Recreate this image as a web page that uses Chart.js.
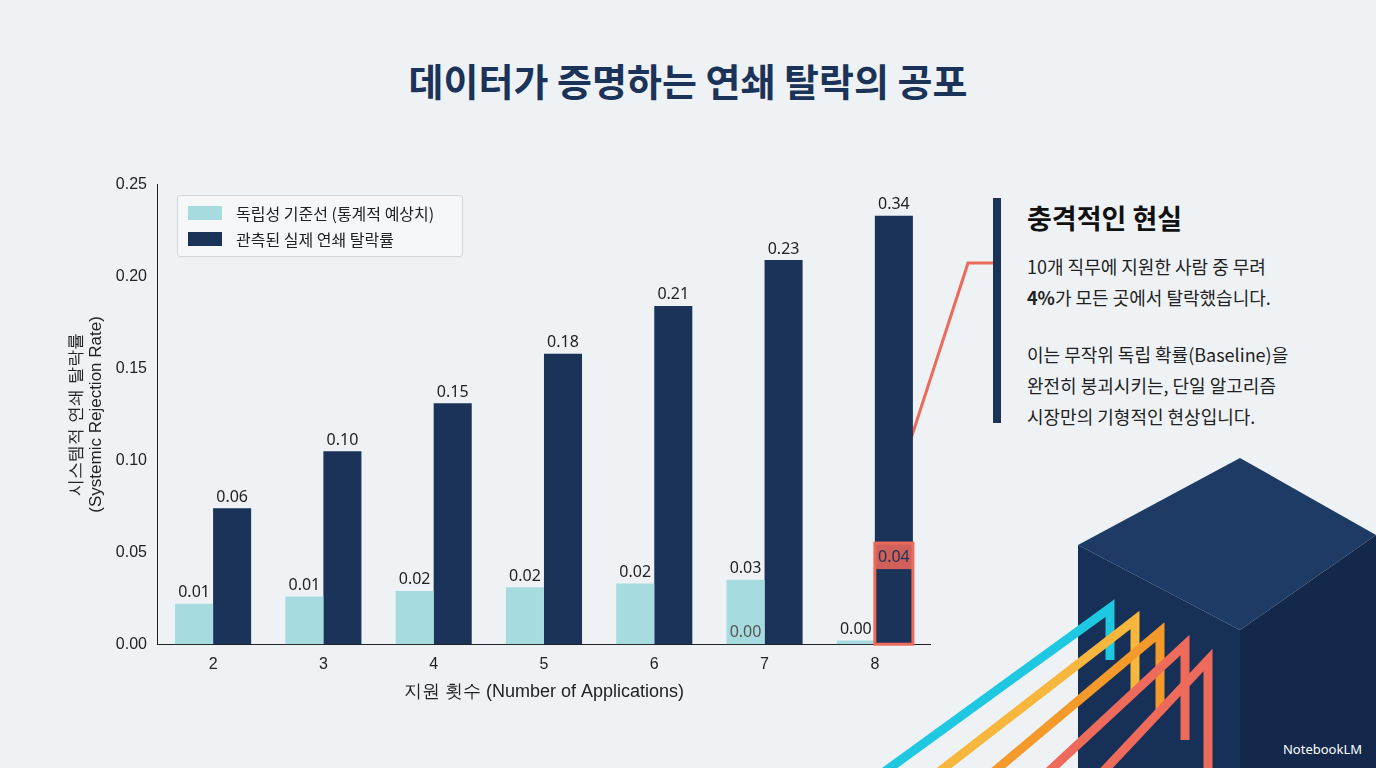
<!DOCTYPE html>
<html><head><meta charset="utf-8">
<script src="https://cdn.jsdelivr.net/npm/chart.js@4/dist/chart.umd.min.js"></script>
<style>
body{margin:0;width:1376px;height:768px;overflow:hidden;background:#eef2f5;font-family:"Noto Sans CJK KR","Noto Sans",sans-serif;position:relative}
h1{position:absolute;top:52px;left:0;width:1376px;text-align:center;margin:0;font-size:38px;color:#1b3358;font-weight:700}
#wrap{position:absolute;left:60px;top:172px;width:880px;height:535px}
#legend{position:absolute;left:177px;top:195px;width:284px;height:60px;border:1px solid #d3d8dd;background:rgba(245,247,249,.9);border-radius:3px;font-size:16px;color:#222}
#legend div{display:flex;align-items:center;height:26px;margin-left:10px}
#legend span{display:inline-block;width:34px;height:14px;margin-right:14px}
#panel{position:absolute;left:993px;top:198px;border-left:8px solid #1b3358;height:225px;padding-left:26px;color:#222}
#panel h2{margin:0 0 14px;font-size:27px;color:#111}
#panel p{margin:0 0 26px;font-size:18px;line-height:31px}
#logo{position:absolute;right:14px;bottom:10px;font-size:13px;color:#fff;font-family:"Noto Sans"}
svg{position:absolute;left:0;top:0}
</style></head><body>
<h1>데이터가 증명하는 연쇄 탈락의 공포</h1>
<svg width="1376" height="768">
 <polygon points="1078,545 1240,458 1376,535 1240,630" fill="#1e3b66"/>
 <polygon points="1078,545 1240,630 1240,768 1078,768" fill="#173057"/>
 <polygon points="1240,630 1376,535 1376,768 1240,768" fill="#13284a"/>
 <g fill="none" stroke-width="9">
  <polyline points="880,775 1110,608 1110,660" stroke="#1ec8e0"/>
  <polyline points="935,775 1135,620 1135,690" stroke="#f6b73c"/>
  <polyline points="990,775 1160,632 1160,712" stroke="#f39a2a"/>
  <polyline points="1045,775 1185,645 1185,740" stroke="#ee6a5a"/>
  <polyline points="1100,775 1208,660 1208,768" stroke="#ee6a5a"/>
 </g>
 <polyline points="882,528 968,263 998,263" fill="none" stroke="#ee6a5a" stroke-width="3"/>
</svg>
<div id="wrap"><canvas id="c"></canvas></div>
<div id="legend">
 <div style="margin-top:4px"><span style="background:#a6dbe0"></span>독립성 기준선 (통계적 예상치)</div>
 <div><span style="background:#1b3358"></span>관측된 실제 연쇄 탈락률</div>
</div>
<div id="panel">
 <h2>충격적인 현실</h2>
 <p>10개 직무에 지원한 사람 중 무려<br><b>4%</b>가 모든 곳에서 탈락했습니다.</p>
 <p>이는 무작위 독립 확률(Baseline)을<br>완전히 붕괴시키는, 단일 알고리즘<br>시장만의 기형적인 현상입니다.</p>
</div>
<div id="logo">NotebookLM</div>
<script>
const categories = ['2', '3', '4', '5', '6', '7', '8'];
const baseline = [0.022, 0.026, 0.029, 0.031, 0.033, 0.035, 0.002];
const observed = [0.074, 0.105, 0.131, 0.158, 0.184, 0.209, 0.233];
const baselineLabels = ['0.01', '0.01', '0.02', '0.02', '0.02', '0.03', '0.00'];
const observedLabels = ['0.06', '0.10', '0.15', '0.18', '0.21', '0.23', '0.34'];
const yTicks = [0, 0.05, 0.10, 0.15, 0.20, 0.25];

const labelPlugin = {
    id: 'labels',
    afterDatasetsDraw(chart) {
        const ctx = chart.ctx;
        ctx.save();
        ctx.font = '16px "Noto Sans", sans-serif';
        ctx.fillStyle = '#222';
        ctx.textAlign = 'center';
        ctx.textBaseline = 'bottom';
        [baselineLabels, observedLabels].forEach((labels, di) => {
            chart.getDatasetMeta(di).data.forEach((bar, i) => {
                ctx.fillText(labels[i], bar.x, bar.y - 3);
            });
        });
        const y = chart.scales.y;
        const b7 = chart.getDatasetMeta(0).data[5];
        ctx.fillStyle = '#555';
        ctx.fillText('0.00', b7.x, y.getPixelForValue(0) - 4);
        // highlight box on the last observed bar
        const b8 = chart.getDatasetMeta(1).data[6];
        const top = y.getPixelForValue(0.055), bot = y.getPixelForValue(0);
        const w = b8.width;
        ctx.fillStyle = 'rgba(238,106,90,0.85)';
        ctx.fillRect(b8.x - w / 2, top, w, 26);
        ctx.strokeStyle = '#ee6a5a';
        ctx.lineWidth = 3;
        ctx.strokeRect(b8.x - w / 2, top, w, bot - top);
        ctx.fillStyle = '#1b3358';
        ctx.textBaseline = 'middle';
        ctx.fillText('0.04', b8.x, top + 14);
        ctx.restore();
    }
};

new Chart(document.getElementById('c'), {
    type: 'bar',
    data: {
        labels: categories,
        datasets: [
            { label: '독립성 기준선 (통계적 예상치)', data: baseline, backgroundColor: '#a6dbe0' },
            { label: '관측된 실제 연쇄 탈락률', data: observed, backgroundColor: '#1b3358' }
        ]
    },
    options: {
        responsive: true,
        maintainAspectRatio: false,
        animation: false,
        layout: { padding: { top: 10, right: 10 } },
        datasets: { bar: { categoryPercentage: 0.69, barPercentage: 1 } },
        plugins: { legend: { display: false }, tooltip: { enabled: false } },
        scales: {
            x: {
                grid: { display: false },
                border: { color: '#222' },
                ticks: { color: '#222', font: { size: 16 } },
                title: { display: true, text: '지원 횟수 (Number of Applications)', color: '#222', font: { size: 18 } }
            },
            y: {
                min: 0, max: 0.25,
                afterBuildTicks: axis => { axis.ticks = yTicks.map(v => ({ value: v })); },
                grid: { display: false },
                border: { color: '#222' },
                ticks: { color: '#222', font: { size: 16 }, callback: v => v.toFixed(2) },
                title: { display: true, text: ['시스템적 연쇄 탈락률', '(Systemic Rejection Rate)'], color: '#222', font: { size: 17 }, padding: 6 }
            }
        }
    },
    plugins: [labelPlugin]
});
</script>
</body></html>
